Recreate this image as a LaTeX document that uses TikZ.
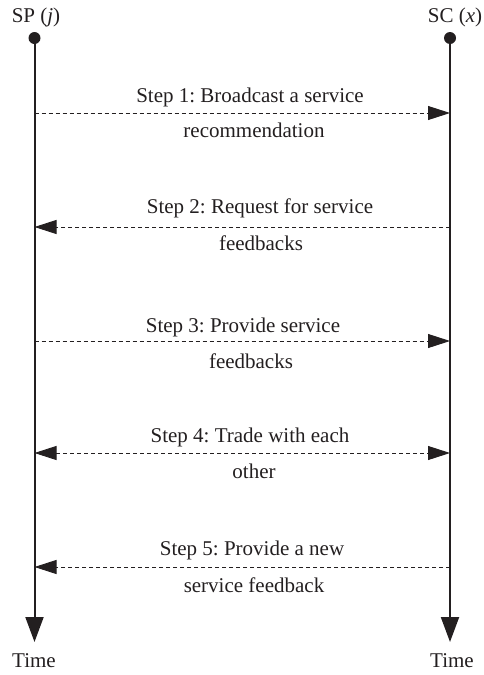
\documentclass[tikz,border=0pt]{standalone}
\usepackage{fontspec}
\setmainfont{Liberation Serif}
\usetikzlibrary{arrows.meta}
\definecolor{ink}{HTML}{231F20}
\frenchspacing
\begin{document}
\begin{tikzpicture}[x=1pt,y=-1pt,
  lbl/.style={font=\fontsize{21}{25}\selectfont, anchor=base, inner sep=0pt, text=ink},
  life/.style={line width=2pt, draw=ink, -{Triangle[length=25pt,width=18pt,fill=ink]}},
  msg/.style={line width=0.9pt, draw=ink, dash pattern=on 4pt off 3pt, >={Triangle[length=22pt,width=14pt,fill=ink]}}
]
\useasboundingbox (0,0) rectangle (483,675);
% lifelines
\coordinate (Ltop) at (34.5,38); \coordinate (Lbot) at (34.5,642);
\coordinate (Rtop) at (450,38);  \coordinate (Rbot) at (450,642);
\draw[life] (Ltop) -- (Lbot);
\draw[life] (Rtop) -- (Rbot);
\fill[ink] (Ltop) circle (6);
\fill[ink] (Rtop) circle (6);
\node[lbl] (sp) at (36,22) {SP (\textit{j})};
\node[lbl] (sc) at (455,22) {SC (\textit{x})};
\node[lbl] (tl) at (34,667) {Time};
\node[lbl] (tr) at (452,667) {Time};
% message anchors
\coordinate (L1) at (34.5,113); \coordinate (R1) at (450,113);
\coordinate (L2) at (34.5,227); \coordinate (R2) at (450,227);
\coordinate (L3) at (34.5,341); \coordinate (R3) at (450,341);
\coordinate (L4) at (34.5,453); \coordinate (R4) at (450,453);
\coordinate (L5) at (34.5,567); \coordinate (R5) at (450,567);
% step 1
\draw[msg, ->] (L1) -- (R1);
\node[lbl] (s1a) at (250,102) {Step 1: Broadcast a service};
\node[lbl] (s1b) at (254,137) {recommendation};
% step 2
\draw[msg, ->] (R2) -- (L2);
\node[lbl] (s2a) at (260,213) {Step 2: Request for service};
\node[lbl] (s2b) at (261,250) {feedbacks};
% step 3
\draw[msg, ->] (L3) -- (R3);
\node[lbl] (s3a) at (243,332) {Step 3: Provide service};
\node[lbl] (s3b) at (251,368) {feedbacks};
% step 4
\draw[msg, <->] (L4) -- (R4);
\node[lbl] (s4a) at (250,442) {Step 4: Trade with each};
\node[lbl] (s4b) at (254,478) {other};
% step 5
\draw[msg, ->] (R5) -- (L5);
\node[lbl] (s5a) at (252,555) {Step 5: Provide a new};
\node[lbl] (s5b) at (254,592) {service feedback};
\end{tikzpicture}
\end{document}
